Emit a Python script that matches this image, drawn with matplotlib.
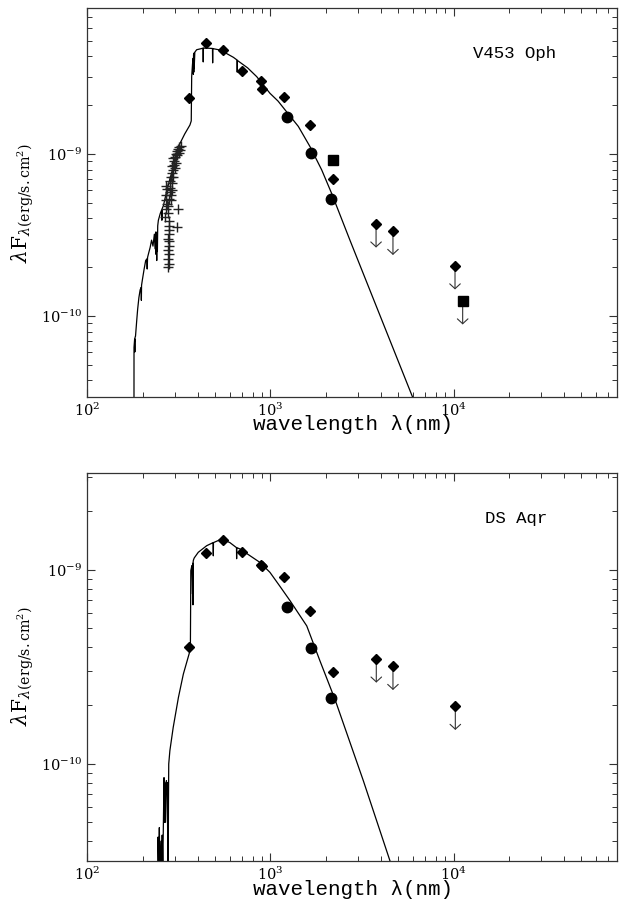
import matplotlib
matplotlib.use('Agg')
import matplotlib.pyplot as plt
from matplotlib.ticker import LogLocator, NullFormatter
from matplotlib.transforms import ScaledTranslation

plt.rcParams['font.family'] = 'DejaVu Serif'
plt.rcParams['mathtext.fontset'] = 'dejavuserif'

# ---- V453 Oph ----
v453_model_wl = [179.5, 179.6, 181.0, 181.5, 182.0, 183.0, 186.0, 188.0, 191.0, 194.0, 196.5, 197.0,
                 197.5, 200.0, 204.0, 208.0, 211.0, 212.0, 213.0, 216.0, 220.0, 224.0, 228.0, 232.0,
                 234.0, 236.0, 237.0, 238.0, 239.0, 240.0, 241.0, 242.0, 244.0, 250.0, 254.0, 255.0,
                 256.0, 260.0, 270.0, 280.0, 288.0, 300.0, 310.0, 320.0, 340.0, 363.0, 369.0, 371.0,
                 375.0, 378.0, 379.0, 380.0, 381.0, 382.0, 383.0, 386.0, 395.0, 412.0, 428.0, 429.0,
                 430.0, 450.0, 482.0, 483.0, 484.0, 520.0, 548.0, 627.0, 657.0, 658.0, 659.0, 750.0,
                 841.0, 993.0, 1100.0, 1225.0, 1419.0, 1644.0, 1905.0, 2158.0, 2716.0, 5915.0, 6600.0]
v453_model_f = [2.0e-11, 6.4e-11, 7.2e-11, 6.0e-11, 7.4e-11, 7.5e-11, 9.5e-11, 1.1e-10, 1.3e-10,
                1.45e-10, 1.5e-10, 1.25e-10, 1.55e-10, 1.7e-10, 1.95e-10, 2.2e-10, 2.25e-10, 1.95e-10,
                2.3e-10, 2.45e-10, 2.65e-10, 2.94e-10, 2.7e-10, 3.2e-10, 2.6e-10, 3.3e-10, 2.4e-10,
                3.2e-10, 2.2e-10, 3.3e-10, 2.5e-10, 3.6e-10, 3.9e-10, 4.3e-10, 4.5e-10, 3.9e-10,
                4.6e-10, 4.8e-10, 5.8e-10, 6.8e-10, 7.6e-10, 9.0e-10, 1.05e-9, 1.16e-9, 1.33e-9,
                1.51e-9, 1.6e-9, 3.0e-9, 3.6e-9, 3.9e-9, 3.1e-9, 4.1e-9, 3.2e-9, 4.2e-9, 3.4e-9,
                4.25e-9, 4.4e-9, 4.45e-9, 4.5e-9, 3.7e-9, 4.5e-9, 4.5e-9, 4.48e-9, 3.65e-9, 4.47e-9,
                4.4e-9, 4.3e-9, 3.95e-9, 3.8e-9, 3.2e-9, 3.78e-9, 3.4e-9, 3.0e-9, 2.37e-9, 2.12e-9,
                1.82e-9, 1.48e-9, 1.11e-9, 7.97e-10, 5.71e-10, 2.94e-10, 3.25e-11, 2.4e-11]

v453_iue_wl = [276, 278, 277, 279, 276, 278, 279, 277, 279, 280, 278, 280,
               266, 268, 267, 270, 269, 272, 271,
               275, 277, 279, 281, 283, 285, 284, 286, 288, 290, 292, 289, 294, 296, 298, 295,
               300, 302, 304, 306, 308, 310, 313, 316, 318, 320, 323, 312, 307, 290, 287]
v453_iue_f = [2.0e-10, 2.1e-10, 2.25e-10, 2.4e-10, 2.55e-10, 2.7e-10, 2.9e-10, 3.0e-10, 3.2e-10,
              3.4e-10, 3.6e-10, 3.85e-10,
              4.1e-10, 4.6e-10, 5.2e-10, 5.6e-10, 6.3e-10, 6.1e-10, 4.9e-10,
              4.3e-10, 4.8e-10, 5.3e-10, 5.8e-10, 6.2e-10, 5.6e-10, 6.8e-10, 7.2e-10, 6.6e-10,
              7.6e-10, 8.0e-10, 8.4e-10, 7.2e-10, 8.6e-10, 9.0e-10, 9.4e-10, 8.2e-10, 9.6e-10,
              1.0e-9, 8.8e-10, 1.05e-9, 9.8e-10, 1.08e-9, 1.02e-9, 1.1e-9, 1.06e-9, 1.12e-9,
              4.6e-10, 3.55e-10, 6.0e-10, 5.2e-10]

v453_diam_wl = [359, 442, 548, 701, 891, 901, 1189, 1644, 2188]
v453_diam_f = [2.23e-9, 4.86e-9, 4.39e-9, 3.27e-9, 2.83e-9, 2.51e-9, 2.26e-9, 1.51e-9, 7.0e-10]
v453_diam_lim_wl = [3774, 4668, 10190]
v453_diam_lim_f = [3.70e-10, 3.33e-10, 2.04e-10]
v453_circ_wl = [1225, 1660, 2143]
v453_circ_f = [1.69e-9, 1.02e-9, 5.3e-10]
v453_sq_wl = [2188]
v453_sq_f = [9.2e-10]
v453_sq_lim_wl = [11220]
v453_sq_lim_f = [1.24e-10]

# ---- DS Aqr ----
dsaqr_model_wl = [241, 243, 245, 247, 249, 252, 254, 256, 258, 262, 263, 265, 267, 270, 272, 273,
                  275, 276, 277, 278, 282, 294, 314, 334, 363, 365, 367, 372, 375, 376, 377, 378,
                  379, 383, 403, 448, 486, 487, 488, 541, 600, 652, 653, 654, 681, 877, 993, 1128,
                  1280, 1578, 1862, 2158, 2299, 3215, 4500, 5000]
dsaqr_model_f = [2.0e-11, 4.2e-11, 3.0e-11, 4.7e-11, 2.5e-11, 4.0e-11, 2.8e-11, 4.3e-11, 3.0e-11,
                 8.5e-11, 5.0e-11, 8.0e-11, 5.0e-11, 8.2e-11, 7.0e-11, 8.0e-11, 3.0e-11, 2.0e-11,
                 6.0e-11, 1.0e-10, 1.17e-10, 1.54e-10, 2.2e-10, 2.9e-10, 3.82e-10, 3.9e-10, 9.9e-10,
                 1.05e-9, 7.5e-10, 1.08e-9, 6.6e-10, 1.1e-9, 1.12e-9, 1.15e-9, 1.23e-9, 1.33e-9,
                 1.38e-9, 1.18e-9, 1.38e-9, 1.44e-9, 1.38e-9, 1.3e-9, 1.14e-9, 1.3e-9, 1.28e-9,
                 1.09e-9, 9.7e-10, 8.2e-10, 6.92e-10, 5.14e-10, 3.4e-10, 2.38e-10, 2.03e-10, 8.2e-11,
                 3.16e-11, 2.4e-11]

dsaqr_diam_wl = [359, 442, 548, 701, 891, 901, 1189, 1644, 2188]
dsaqr_diam_f = [4.01e-10, 1.22e-9, 1.42e-9, 1.23e-9, 1.06e-9, 1.04e-9, 9.2e-10, 6.16e-10, 2.98e-10]
dsaqr_diam_lim_wl = [3785, 4668, 10230]
dsaqr_diam_lim_f = [3.47e-10, 3.18e-10, 1.98e-10]
dsaqr_circ_wl = [1225, 1660, 2142]
dsaqr_circ_f = [6.44e-10, 3.95e-10, 2.18e-10]

fig = plt.figure(figsize=(6.23, 9.05), dpi=100)
ax1 = fig.add_axes([0.1404, 0.5613, 0.8499, 0.4304])
ax2 = fig.add_axes([0.1404, 0.0486, 0.8499, 0.4291])


def limits(ax, wl, f, marker, ms):
    drop = ax.transData + ScaledTranslation(0, -17 / 72, fig.dpi_scale_trans)
    for x, y in zip(wl, f):
        ax.annotate('', xy=(x, y), xycoords=drop, xytext=(x, y), textcoords='data',
                    arrowprops=dict(arrowstyle='->,head_length=0.35,head_width=0.38',
                                    color='#333333', lw=0.8, shrinkA=0, shrinkB=0))
    ax.plot(wl, f, marker, color='black', ms=ms, ls='none', zorder=5)


def setup(ax, ylo, yhi, name, lblx):
    ax.set_xscale('log')
    ax.set_yscale('log')
    ax.set_xlim(100, 10 ** 4.893)
    ax.set_ylim(ylo, yhi)
    ax.xaxis.set_major_locator(LogLocator(base=10, numticks=10))
    ax.xaxis.set_minor_locator(LogLocator(base=10, subs=range(2, 10), numticks=20))
    ax.yaxis.set_major_locator(LogLocator(base=10, numticks=10))
    ax.yaxis.set_minor_locator(LogLocator(base=10, subs=range(2, 10), numticks=20))
    ax.xaxis.set_minor_formatter(NullFormatter())
    ax.yaxis.set_minor_formatter(NullFormatter())
    ax.tick_params(which='both', direction='in', top=True, right=True, labelsize=10.5,
                   color='#333333')
    ax.tick_params(which='major', length=6, width=0.8, pad=3.5)
    ax.tick_params(which='minor', length=3.5, width=0.7)
    for s in ax.spines.values():
        s.set_linewidth(0.9)
        s.set_color('#333333')
    ax.text(lblx, 0.883, name, transform=ax.transAxes, fontsize=12.5,
            family='Liberation Mono', va='center', ha='left')


# top panel
ax1.plot(v453_model_wl, v453_model_f, color='black', lw=0.9)
ax1.plot(v453_iue_wl, v453_iue_f, '+', color='#222222', ms=6.5, mew=1.0)
ax1.plot(v453_diam_wl, v453_diam_f, 'D', color='black', ms=5.5, ls='none', zorder=5)
ax1.plot(v453_circ_wl, v453_circ_f, 'o', color='black', ms=7.5, ls='none', zorder=5)
ax1.plot(v453_sq_wl, v453_sq_f, 's', color='black', ms=6.5, ls='none', zorder=5)
limits(ax1, v453_diam_lim_wl, v453_diam_lim_f, 'D', 5.5)
limits(ax1, v453_sq_lim_wl, v453_sq_lim_f, 's', 6.5)
setup(ax1, 10 ** -10.5, 10 ** -8.096, 'V453 Oph', 0.728)

# bottom panel
ax2.plot(dsaqr_model_wl, dsaqr_model_f, color='black', lw=0.9)
ax2.plot(dsaqr_diam_wl, dsaqr_diam_f, 'D', color='black', ms=5.5, ls='none', zorder=5)
ax2.plot(dsaqr_circ_wl, dsaqr_circ_f, 'o', color='black', ms=7.5, ls='none', zorder=5)
limits(ax2, dsaqr_diam_lim_wl, dsaqr_diam_lim_f, 'D', 5.5)
setup(ax2, 10 ** -10.5, 10 ** -8.5, 'DS Aqr', 0.751)

ylab = r'$\lambda\mathrm{F}_{\lambda\mathrm{(erg/s.cm^2)}}$'
fig.text(0.037, 0.7757, ylab, rotation=90, fontsize=14.5, ha='center', va='center')
fig.text(0.037, 0.2635, ylab, rotation=90, fontsize=14.5, ha='center', va='center')
xlab = 'wavelength \u03bb(nm)'
fig.text(0.5674, 0.531, xlab, fontsize=15, family='Liberation Mono', ha='center', va='center')
fig.text(0.5674, 0.0175, xlab, fontsize=15, family='Liberation Mono', ha='center', va='center')

fig.savefig('out.png', dpi=100)
